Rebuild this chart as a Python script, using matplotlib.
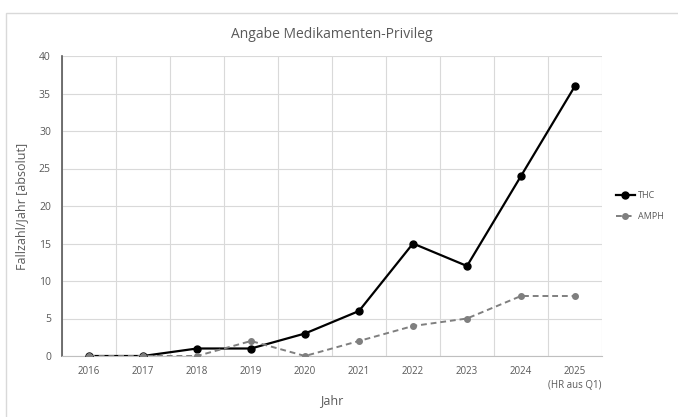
import matplotlib.pyplot as plt
from matplotlib.patches import Rectangle
import numpy as np

plt.rcParams['font.family'] = ['Open Sans', 'DejaVu Sans']

# Daten
jahre = ['2016', '2017', '2018', '2019', '2020', '2021', '2022', '2023', '2024', '2025\n(HR aus Q1)']
thc = [0, 0, 1, 1, 3, 6, 15, 12, 24, 36]
amph = [0, 0, 0, 2, 0, 2, 4, 5, 8, 8]

text_col = '#595959'
grid_col = '#d9d9d9'

fig = plt.figure(figsize=(6.78, 4.17), dpi=100)
# Rahmen um den Diagrammbereich
fig.patches.append(Rectangle((6 / 678, -0.01), 1.0, 1 - 13 / 417 + 0.01, transform=fig.transFigure,
                             fill=False, edgecolor='#d9d9d9', linewidth=1.0))

ax = fig.add_axes([62 / 678, 1 - 356 / 417, 540 / 678, 300 / 417])
x = np.arange(len(jahre))

ax.plot(x, thc, color='black', linewidth=1.6, marker='o', markersize=5, label='THC', zorder=3)
ax.plot(x, amph, color='#7f7f7f', linewidth=1.4, linestyle=(0, (3, 2)), marker='o',
        markersize=4, label='AMPH', zorder=3)

ax.set_xlim(-0.5, len(jahre) - 0.5)
ax.set_ylim(0, 40)
ax.set_yticks(range(0, 41, 5))
ax.set_xticks(x)
ax.set_xticklabels(jahre, fontsize=7, color=text_col, linespacing=1.4)
ax.set_xticks(np.arange(-0.5, len(jahre), 1), minor=True)
ax.tick_params(axis='y', labelsize=7.5, colors=text_col, length=0, pad=8)
ax.tick_params(axis='x', which='both', length=0, pad=7)

ax.grid(axis='y', color=grid_col, linewidth=0.8)
ax.grid(axis='x', which='minor', color=grid_col, linewidth=0.8)
ax.set_axisbelow(True)

for s in ['top', 'right']:
    ax.spines[s].set_visible(False)
ax.spines['left'].set_color('#595959')
ax.spines['left'].set_linewidth(1.2)
ax.spines['bottom'].set_color('#bfbfbf')

ax.set_title('Angabe Medikamenten-Privileg', fontsize=10, color=text_col, pad=13)
ax.set_xlabel('Jahr', fontsize=9, color=text_col, labelpad=2)
ax.set_ylabel('Fallzahl/Jahr [absolut]', fontsize=9, color=text_col, labelpad=8)

leg = ax.legend(loc='center left', bbox_to_anchor=(1.01, 0.5), frameon=False, fontsize=6.5,
                handlelength=2.2, labelspacing=1.3, handletextpad=0.3)
for t in leg.get_texts():
    t.set_color(text_col)

fig.savefig('out.png', dpi=100, facecolor='white')
